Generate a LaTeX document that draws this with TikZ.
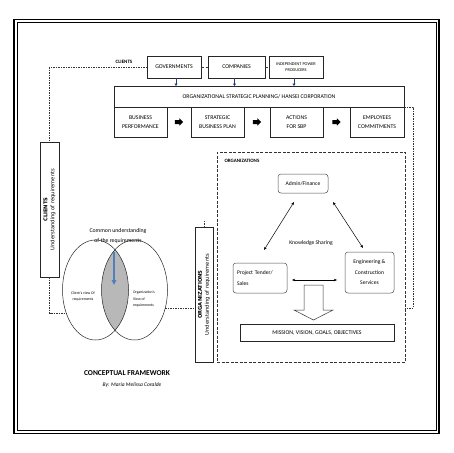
\documentclass[tikz,border=0pt]{standalone}
\usepackage{fontspec}
\setmainfont{Carlito}
\newfontfamily\dejavu{DejaVu Sans}
\usetikzlibrary{arrows.meta,shapes.geometric,calc}
\definecolor{bluearr}{RGB}{79,129,189}
\definecolor{navyarr}{RGB}{31,63,127}
\tikzset{
  box/.style={draw=black!85, line width=0.5pt, inner sep=0pt, outer sep=0pt, align=center, font=\fontsize{5.8}{9}\selectfont},
  rbox/.style={box, rounded corners=3pt, draw=black!70, font=\fontsize{5.6}{10.5}\selectfont},
  dotln/.style={line width=0.6pt, black!80, dash pattern=on 1.5pt off 1pt},
  dashln/.style={line width=0.5pt, black!80, dash pattern=on 3pt off 1.5pt},
  dbl/.style={{Stealth[length=3.2pt,width=2.6pt]}-{Stealth[length=3.2pt,width=2.6pt]}, line width=0.5pt},
  sarr/.style={-{Triangle[length=2.5pt,width=3pt]}, line width=0.8pt, navyarr},
  vtext/.style={rotate=90, align=center, font=\dejavu\fontsize{5.2}{6.8}\selectfont, inner sep=0pt},
  lbl/.style={font=\bfseries\fontsize{5}{6}\selectfont},
}
\newcommand\blkarrow[1]{\fill (#1) ++(-4.2,-2) -- ++(4.6,0) -- ++(0,-1.6) -- ++(3.8,3.6) -- ++(-3.8,3.6) -- ++(0,-1.6) -- ++(-4.6,0) -- cycle;}
\begin{document}
\begin{tikzpicture}[x=1pt,y=-1pt]
\useasboundingbox (0,0) rectangle (453,453);
% frame
\draw[line width=1.8pt] (14,19.5) rectangle (439,433.5);
\draw[line width=0.6pt] (16.8,22.3) rectangle (436.2,430.7);

% clients row
\node[box, minimum width=54pt, minimum height=22pt] (gov) at (174,67) {GOVERNMENTS};
\node[box, minimum width=57pt, minimum height=22pt] (comp) at (236.5,67) {COMPANIES};
\node[box, minimum width=54pt, minimum height=22pt, font=\fontsize{4.3}{6.5}\selectfont] (ipp) at (296,67) {INDEPENDENT POWER\\PRODUCERS};
\node[lbl] (clientslbl) at (124,62) {CLIENTS};
\draw[dashln] (gov.east) -- (comp.west);
\draw[dashln] (comp.east) -- (ipp.west);

% strategic planning
\node[box, minimum width=290pt, minimum height=21pt] (osp) at (259,96.5) {ORGANIZATIONAL STRATEGIC PLANNING/ HANSEI CORPORATION};
\draw[sarr] ([xshift=2pt]gov.south) -- ([xshift=2pt]gov.south |- osp.north);
\draw[sarr] ([xshift=-2pt]comp.south) -- ([xshift=-2pt]comp.south |- osp.north);
\draw[sarr] ([xshift=-2pt]ipp.south) -- ([xshift=-2pt]ipp.south |- osp.north);

\node[box, minimum width=53pt, minimum height=30pt] (bp) at (140.5,122) {BUSINESS\\PERFORMANCE};
\node[box, minimum width=53pt, minimum height=30pt] (sbp) at (217.5,122) {STRATEGIC\\BUSINESS PLAN};
\node[box, minimum width=53pt, minimum height=30pt] (act) at (296.5,122) {ACTIONS\\FOR SBP};
\node[box, minimum width=54pt, minimum height=30pt] (emp) at (377,122) {EMPLOYEES\\COMMITMENTS};
\coordinate (b1) at ($(bp.east)!0.5!(sbp.west)$);
\coordinate (b2) at ($(sbp.east)!0.5!(act.west)$);
\coordinate (b3) at ($(act.east)!0.5!(emp.west)$);
\blkarrow{b1}
\blkarrow{b2}
\blkarrow{b3}

% clients vertical box
\node[box, minimum width=19pt, minimum height=135pt] (clv) at (49.5,209.5) {};
\node[vtext] (clvt) at (clv.center) {\textbf{CLIENTS}\\Understanding of requirements};
\draw[dotln] (gov.west) -| (clv.north);

% venn
\begin{scope}
  \clip (95.5,290) ellipse [x radius=33pt, y radius=50pt];
  \fill[black!28] (134.5,290) ellipse [x radius=33pt, y radius=50pt];
\end{scope}
\node[draw=black!85, line width=0.5pt, ellipse, minimum width=66pt, minimum height=100pt, inner sep=0pt, outer sep=0pt] (le) at (95.5,290) {};
\node[draw=black!85, line width=0.5pt, ellipse, minimum width=66pt, minimum height=100pt, inner sep=0pt, outer sep=0pt] (re) at (134.5,290) {};
\node[align=center, font=\fontsize{3.8}{6}\selectfont] (lt) at (83,296) {Client's view Of\\requirements};
\node[align=left, font=\fontsize{3.8}{6.5}\selectfont] (rt) at (144,299) {Organization's\\View of\\requirements};
\node[align=center, font=\fontsize{5.8}{10}\selectfont] (cu) at (118,236) {Common understanding\\of the requirements};
\coordinate (cutip) at (114,285);
\draw[-{Triangle[length=5pt,width=4.5pt]}, line width=1.1pt, bluearr, shorten <=5pt] (cutip |- cu.south) -- (cutip);
\draw[dotln] (clv.south) |- (le.218);

% organizations vertical box
\node[box, minimum width=18pt, minimum height=135pt] (orgv) at (204,294.5) {};
\node[vtext] (orgvt) at (orgv.center) {\textbf{ORGANIZATIONS}\\Understanding of requirements};
\draw[dotln] (re.-30) -- (re.-30 -| orgv.west);
\draw[dotln] (orgv.north) -- ++(0,-7);

% organizations dashed box
\node[draw=black!80, dashln, minimum width=188pt, minimum height=210pt, inner sep=0pt, outer sep=0pt] (orgbox) at (311,257) {};
\node[lbl, anchor=west] (orglbl) at (221,161) {ORGANIZATIONS};
\coordinate (rc) at (413,308);
\draw[dotln] (osp.south east) -| (rc) -- (orgbox.east |- rc);

\node[rbox, minimum width=50pt, minimum height=19pt] (admin) at (303,183.5) {Admin/Finance};
\node[rbox, minimum width=54pt, minimum height=30pt, text width=46pt, inner xsep=4pt, align=left] (pts) at (260,278) {Project Tender/\\Sales};
\node[rbox, minimum width=49pt, minimum height=41pt] (eng) at (369.5,272.5) {Engineering \&\\Construction\\Services};
\node[font=\fontsize{5.6}{7}\selectfont] (ks) at (311,243) {Knowledge Sharing};
\coordinate (k1) at (294,202);
\coordinate (k2) at (264,250);
\coordinate (k3) at (333,202);
\coordinate (k4) at (363,248);
\draw[dbl] (k1) -- (k2);
\draw[dbl] (k3) -- (k4);
\draw[dbl, shorten <=5pt, shorten >=8pt] ([yshift=-2pt]pts.east) -- ([yshift=-2pt]pts.east -| eng.west);
\draw[line width=0.5pt, draw=black!80, fill=white] (304,285) -- (323,285) -- (323,310) -- (333,310) -- (313.5,320) -- (294,310) -- (304,310) -- cycle;
\node[box, minimum width=154pt, minimum height=17pt] (mission) at (317,332.5) {MISSION, VISION, GOALS, OBJECTIVES};

% titles
\node[font=\bfseries\fontsize{7.5}{9}\selectfont] (title) at (127,373) {CONCEPTUAL FRAMEWORK};
\node[font=\itshape\fontsize{5.5}{7}\selectfont] (by) at (132,385) {By: Maria Melissa Coralde};
\end{tikzpicture}
\end{document}
